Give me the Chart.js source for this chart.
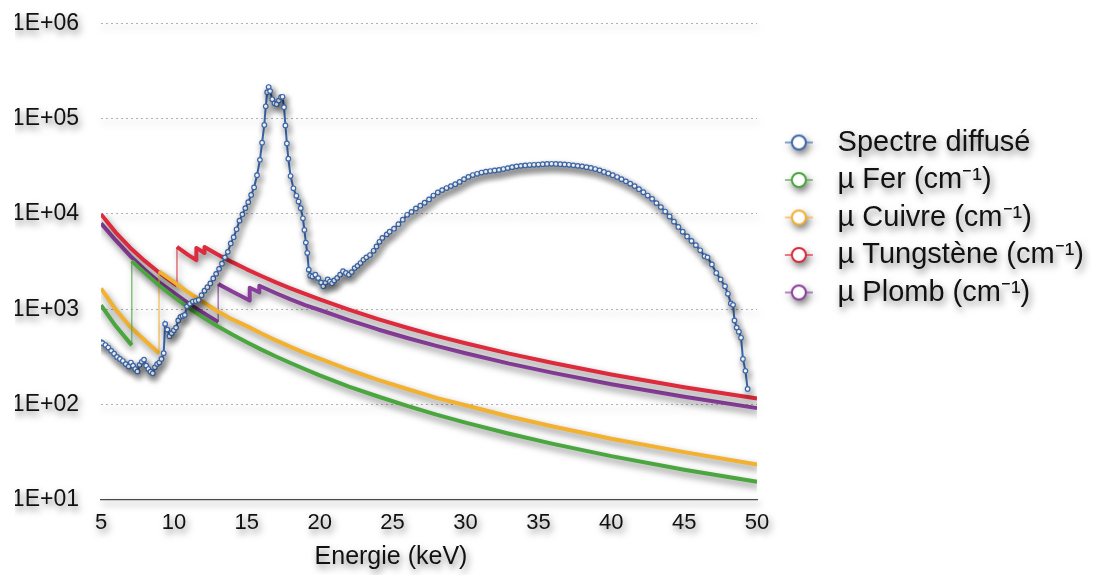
<!DOCTYPE html>
<html>
<head>
<meta charset="utf-8">
<script src="https://cdn.jsdelivr.net/npm/chart.js@4.4.1/dist/chart.umd.min.js"></script>
<style>
  html, body { margin: 0; background: #fff; }
  canvas { display: block; }
</style>
</head>
<body>
<canvas id="graphe" width="1097" height="575"></canvas>
<script>
/* Spectre diffusé + coefficients d'atténuation (échelle log) */

// --- données ---
const spectreE = [5.0,5.1,5.3,5.5,5.7,5.9,6.1,6.3,6.5,6.7,6.9,7.05,7.2,7.35,7.5,7.65,7.8,7.95,8.1,8.25,8.4,8.55,8.7,8.85,9.0,9.15,9.3,
  9.4,9.55,9.7,9.85,10.0,10.15,10.3,10.45,10.6,10.75,10.9,11.1,11.3,11.5,11.7,11.9,12.1,12.3,12.5,12.7,12.9,13.1,13.3,13.5,13.7,13.9,
  14.1,14.3,14.5,14.7,14.9,15.1,15.3,15.5,15.7,15.9,16.05,16.2,16.3,16.4,16.5,16.6,16.75,16.9,17.05,17.2,17.35,17.45,17.55,17.65,17.75,
  17.85,18.0,18.2,18.4,18.55,18.7,18.85,18.95,19.05,19.15,19.25,19.35,19.5,19.7,19.9,20.1,20.25,20.4,20.55,20.7,20.85,21.0,21.2,21.4,
  21.6,21.8,22.0,22.2,22.4,22.6,22.8,23.0,23.2,23.45,23.7,23.9,24.1,24.3,24.6,24.8,25.1,25.4,25.7,26.0,26.3,26.6,26.9,27.2,27.5,27.8,
  28.1,28.4,28.7,29.0,29.3,29.6,29.9,30.2,30.5,30.8,31.1,31.4,31.7,32.0,32.3,32.6,32.9,33.2,33.5,33.8,34.1,34.4,34.7,35.0,35.3,35.6,
  35.9,36.2,36.5,36.8,37.1,37.4,37.7,38.0,38.3,38.6,38.9,39.2,39.5,39.8,40.1,40.4,40.7,41.0,41.3,41.6,41.9,42.2,42.5,42.8,43.1,43.4,
  43.7,44.0,44.3,44.6,44.9,45.2,45.5,45.8,46.1,46.4,46.6,46.9,47.2,47.5,47.8,48.0,48.2,48.35,48.45,48.6,48.75,48.9,49.03,49.2,49.35];
const spectreV = [450,440,420,395,365,340,315,300,285,265,250,275,255,235,222,260,280,295,255,235,220,212,245,265,275,300,345,
  700,610,520,560,600,640,760,830,850,870,1070,1140,1200,1220,1250,1400,1560,1700,1860,2100,2350,2650,3000,3500,4000,4900,
  5700,6900,8500,9900,11500,13300,15800,19000,25500,37000,56000,86000,135000,190000,215000,195000,160000,145000,142000,155000,168000,170000,132000,85000,55000,
  38000,25000,18600,15500,13500,11500,9000,6800,5000,3900,2600,2250,2200,2300,2120,1900,1740,1900,2050,1950,1870,2000,2130,2300,
  2500,2400,2300,2450,2700,2850,3050,3300,3500,3700,4100,4550,5100,5600,6100,6500,7000,7800,8700,9800,10500,11400,12200,13100,14200,15600,
  16800,17800,18700,19600,20500,21700,23200,24500,25600,26400,27200,27800,28200,28600,29000,29600,30300,31000,31600,32000,32300,32600,32800,33000,33300,33500,
  33600,33500,33300,33100,32800,32400,32000,31600,31000,30400,29600,28700,27600,26600,25500,24400,23200,22000,20800,19600,18200,16900,15600,14400,13000,11800,
  10600,9400,8300,7300,6500,5800,5200,4700,4150,3600,3500,2950,2400,2050,1740,1450,1150,1110,760,640,580,500,300,225,145];

const ferE  = [5,6,7,7.11,7.11,8,9,10,11,12,13,14,15,16,17,18,19,20,22,24,26,28,30,33,36,40,45,50];
const ferMu = [1100,668,437,419,3209,2406,1771,1343,1038,821,661,541,449,376,318,272,234,202,154,121,96.3,78.2,64.4,49.2,38.5,28.6,20.6,15.4];

const cuivreE  = [5,6,7,8,8.98,8.98,10,11,12,13,14,15,16,17,18,19,20,22,24,26,28,30,33,36,40,45,50];
const cuivreMu = [1650,1000,655,471,345,2494,1934,1495,1190,952,780,663,555,470,402,346,303,231,181,145,117,97.8,74.7,58.5,43.6,31.5,23.4];

const tungE  = [5,6,7,8,9,10,10.21,10.21,11,11.54,11.54,12.1,12.1,13,14,15,16,17,18,19,20,22,24,26,28,30,33,36,40,45,50];
const tungMu = [9950,6410,4420,3210,2415,1870,1785,4500,3700,3270,4400,3890,4500,3757,3116,2620,2228,1910,1655,1444,1268,988,786,638,525,439,341,272,206,151,115];

const plombE  = [5,6,7,8,9,10,11,12,13,13.04,13.04,14,15,15.2,15.2,15.86,15.86,17,18,19,20,22,24,26,28,30,33,36,40,45,50];
const plombMu = [7950,5300,3620,2600,1914,1482,1152,915,740,735,1840,1530,1279,1230,1680,1503,1760,1470,1265,1100,980,766,612,498,412,344,268,214,163,120,91.3];

const yTicks = [10, 100, 1000, 10000, 100000, 1000000];
const yTickLabels = ['1E+01', '1E+02', '1E+03', '1E+04', '1E+05', '1E+06'];
const xTitle = 'Energie (keV)';

const BLEU = '#3b68ad', VERT = '#4ba63f', ORANGE = '#f2b12f', ROUGE = '#dd2a3c', VIOLET = '#8a3e9b';
const FONT = '"Liberation Sans", Arial, Helvetica, sans-serif';

Chart.defaults.font.family = FONT;
Chart.defaults.color = '#111';

const pts = (xs, ys) => xs.map((x, i) => ({ x: x, y: ys[i] }));

// arête d'absorption : segment vertical fin et plus clair
function areteSeg(color) {
  const big = c => c.p0.parsed.x === c.p1.parsed.x && Math.abs(Math.log10(c.p1.parsed.y / c.p0.parsed.y)) > 0.3;
  return {
    borderWidth: c => big(c) ? 1.5 : undefined,
    borderColor: c => big(c) ? color + 'aa' : undefined
  };
}

function courbe(label, xs, ys, color) {
  return {
    label: label, data: pts(xs, ys), borderColor: color, backgroundColor: color,
    borderWidth: 4, pointRadius: 0, pointHoverRadius: 0, tension: 0,
    borderCapStyle: 'butt', borderJoinStyle: 'round', segment: areteSeg(color)
  };
}

function marqueur(color) {
  const c = document.createElement('canvas');
  c.width = 57; c.height = 22;
  const g = c.getContext('2d');
  const cx = 33, cy = 11;
  g.strokeStyle = color; g.globalAlpha = 0.8; g.lineWidth = 1.5;
  g.beginPath(); g.moveTo(cx - 14, cy); g.lineTo(cx + 14, cy); g.stroke();
  g.globalAlpha = 1; g.lineWidth = 2;
  g.beginPath(); g.arc(cx, cy, 7, 0, Math.PI * 2);
  g.fillStyle = '#fff'; g.fill(); g.stroke();
  return c;
}

const ombre = {
  id: 'ombre',
  beforeDraw(chart) {
    const c = chart.ctx;
    c.save();
    c.shadowColor = 'rgba(0,0,0,0.5)';
    c.shadowBlur = 7;
    c.shadowOffsetX = 2;
    c.shadowOffsetY = 4;
  },
  afterDraw(chart) {
    const c = chart.ctx, a = chart.chartArea;
    c.font = '25px ' + FONT;
    c.fillStyle = '#111';
    c.textAlign = 'center';
    c.textBaseline = 'middle';
    c.fillText(xTitle, a.left + (a.right - a.left) * 0.442, 557);
    c.restore();
  }
};

new Chart(document.getElementById('graphe').getContext('2d'), {
  type: 'line',
  data: {
    datasets: [
      {
        label: 'Spectre diffusé', data: pts(spectreE, spectreV),
        borderColor: BLEU, backgroundColor: '#fff', borderWidth: 2,
        pointRadius: 2.3, pointBorderWidth: 1.2, pointBackgroundColor: '#fff', pointBorderColor: BLEU,
        tension: 0
      },
      courbe('µ Fer (cm⁻¹)', ferE, ferMu, VERT),
      courbe('µ Cuivre (cm⁻¹)', cuivreE, cuivreMu, ORANGE),
      courbe('µ Tungstène (cm⁻¹)', tungE, tungMu, ROUGE),
      courbe('µ Plomb (cm⁻¹)', plombE, plombMu, VIOLET)
    ]
  },
  options: {
    responsive: false,
    animation: false,
    devicePixelRatio: 1,
    layout: { padding: { left: 15, top: 23.5, right: 3, bottom: 29 } },
    plugins: {
      tooltip: { enabled: false },
      legend: {
        position: 'right', align: 'start', maxWidth: 340,
        title: { display: true, text: '', font: { size: 10 }, padding: { top: 84, bottom: 0 } },
        labels: {
          usePointStyle: true, pointStyleWidth: 57.5, padding: 8.5,
          font: { size: 29 }, color: '#111',
          generateLabels: chart => chart.data.datasets.map((ds, i) => ({
            text: ds.label, datasetIndex: i, hidden: false, lineWidth: 0,
            fillStyle: '#fff', strokeStyle: ds.borderColor, fontColor: '#111',
            pointStyle: marqueur(ds.borderColor)
          }))
        }
      }
    },
    scales: {
      x: {
        type: 'linear', min: 5, max: 50,
        ticks: { stepSize: 5, padding: 10, font: { size: 22 }, color: '#111', maxRotation: 0 },
        grid: { display: false, drawTicks: false },
        border: { display: true, color: '#4a4a4a', width: 1.3 }
      },
      y: {
        type: 'logarithmic', min: 10, max: 1000000,
        afterBuildTicks: axis => { axis.ticks = yTicks.map(v => ({ value: v })); },
        afterFit: axis => { axis.width = 86; axis.paddingTop = 0; axis.paddingBottom = 0; },
        ticks: {
          padding: 22, font: { size: 23 }, color: '#111', autoSkip: false,
          callback: v => yTickLabels[yTicks.indexOf(v)]
        },
        grid: {
          drawTicks: false, lineWidth: 1,
          color: c => c.tick && c.tick.value === 10 ? 'rgba(0,0,0,0)' : '#b0b0b0'
        },
        border: { display: false, dash: [2, 3] }
      }
    }
  },
  plugins: [ombre]
});
</script>
</body>
</html>
